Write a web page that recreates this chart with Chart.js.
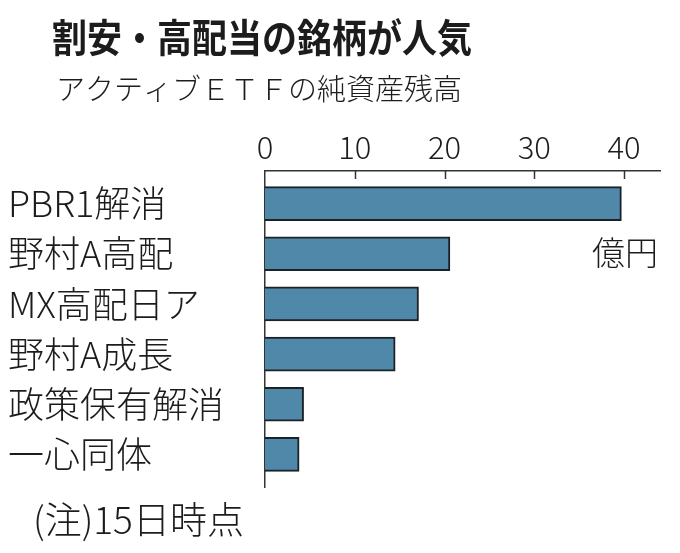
<!DOCTYPE html>
<html>
<head>
<meta charset="utf-8">
<script src="https://cdn.jsdelivr.net/npm/chart.js@4"></script>
<style>
  body { margin: 0; background: #fff; }
  #wrap { width: 680px; height: 553px; position: relative; }
</style>
</head>
<body>
<div id="wrap"><canvas id="chart"></canvas></div>
<script>
// 銘柄名と純資産残高（億円）
const categories = ["PBR1解消", "野村A高配", "MX高配日ア", "野村A成長", "政策保有解消", "一心同体"];
const values = [39.7, 20.6, 17.1, 14.5, 4.3, 3.8];
const xTicks = [0, 10, 20, 30, 40];

const titleText = "割安・高配当の銘柄が人気";
const subtitleText = "アクティブＥＴＦの純資産残高";
const unitText = "億円";
const noteText = "(注)15日時点";

const FONT = "'Noto Sans CJK JP', 'Noto Sans', sans-serif";
const INK = "#1c1c1c";

// 見出し・単位・注記と、上軸の内向き目盛り
const decor = {
    id: "decor",
    afterDraw(chart) {
        const ctx = chart.ctx;
        const x = chart.scales.x;
        const area = chart.chartArea;
        ctx.save();

        ctx.strokeStyle = "#333";
        ctx.lineWidth = 1.5;
        xTicks.slice(1).forEach(function (v) {
            const px = Math.round(x.getPixelForValue(v)) + 0.5;
            ctx.beginPath();
            ctx.moveTo(px, area.top);
            ctx.lineTo(px, area.top + 8);
            ctx.stroke();
        });

        ctx.fillStyle = INK;
        ctx.textAlign = "left";
        ctx.textBaseline = "middle";
        // 見出しは縦長の字形に合わせて少し縦に伸ばす
        ctx.save();
        ctx.translate(52, 37);
        ctx.scale(1, 1.12);
        ctx.font = "bold 35px " + FONT;
        ctx.fillText(titleText, 0, 0);
        ctx.restore();
        ctx.font = "300 29px " + FONT;
        ctx.fillText(subtitleText, 56, 89);
        ctx.font = "300 33px " + FONT;
        ctx.fillText(unitText, 592, 252);
        ctx.font = "300 37px " + FONT;
        ctx.fillText(noteText, 33, 520);
        ctx.restore();
    }
};

new Chart(document.getElementById("chart"), {
    type: "bar",
    data: {
        datasets: [
            {
                data: values.map(function (v, i) { return { x: v, y: i }; }),
                backgroundColor: "#5088aa",
                borderColor: "#1a2228",
                borderWidth: 2,
                barThickness: 34
            }
        ]
    },
    options: {
        indexAxis: "y",
        responsive: true,
        maintainAspectRatio: false,
        animation: false,
        layout: {
            padding: { left: 8, top: 120, right: 20, bottom: 66 }
        },
        scales: {
            x: {
                type: "linear",
                position: "top",
                min: 0,
                max: 44,
                afterFit: function (scale) { scale.height = 51; },
                afterBuildTicks: function (scale) {
                    scale.ticks = xTicks.map(function (v) { return { value: v }; });
                },
                grid: { display: false, drawTicks: false },
                border: { display: true, color: "#333", width: 1.5 },
                ticks: {
                    padding: 5,
                    color: INK,
                    font: { family: FONT, size: 31, weight: 300 }
                }
            },
            y: {
                type: "linear",
                reverse: true,
                offset: false,
                min: -0.65,
                max: 5.65,
                afterFit: function (scale) { scale.width = 257; },
                afterBuildTicks: function (scale) {
                    scale.ticks = categories.map(function (c, i) { return { value: i }; });
                },
                grid: { display: false, drawTicks: false },
                border: { display: true, color: "#333", width: 1.5 },
                ticks: {
                    crossAlign: "far",
                    padding: 0,
                    color: INK,
                    font: { family: FONT, size: 36, weight: 300 },
                    callback: function (value) { return categories[value]; }
                }
            }
        },
        plugins: {
            legend: { display: false },
            tooltip: { enabled: false }
        }
    },
    plugins: [decor]
});
</script>
</body>
</html>
